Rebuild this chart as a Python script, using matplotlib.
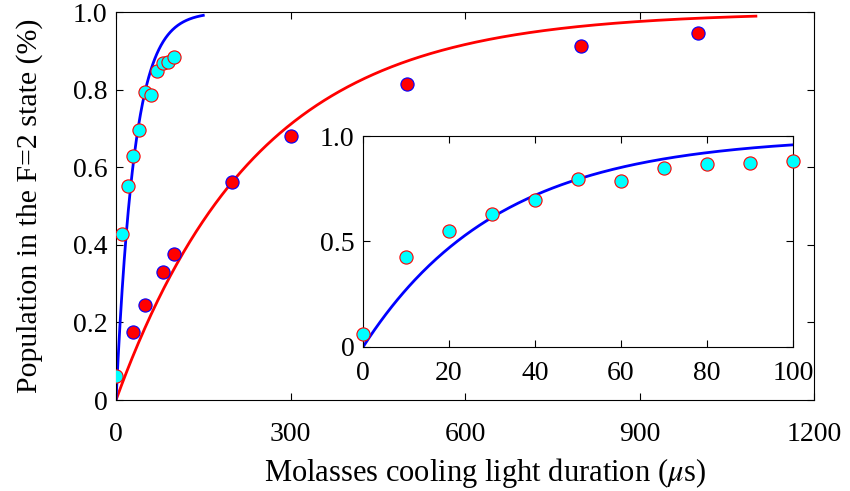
import numpy as np
import matplotlib
matplotlib.use('Agg')
import matplotlib.pyplot as plt

plt.rcParams['font.family'] = ['Liberation Serif', 'DejaVu Serif']
plt.rcParams['mathtext.fontset'] = 'stix'

# short delays (cyan) and long delays (red)
t_short = [0, 10, 20, 30, 40, 50, 60, 70, 80, 90, 100]
p_short = [0.061, 0.428, 0.551, 0.630, 0.696, 0.794, 0.787, 0.849, 0.868, 0.871, 0.883]
t_long = [30, 50, 80, 100, 200, 300, 500, 800, 1000]
p_long = [0.175, 0.245, 0.330, 0.376, 0.562, 0.680, 0.814, 0.912, 0.946]

# exponential fit parameters: p = A * (1 - exp(-t / tau))
tau_short, amp_short, tmax_short = 31.5, 1.0, 150
tau_long, amp_long, tmax_long = 242.0, 1.0, 1100

main_xticks = [0, 300, 600, 900, 1200]
main_yticks = [0, 0.2, 0.4, 0.6, 0.8, 1.0]
main_ylabels = ['0', '0.2', '0.4', '0.6', '0.8', '1.0']
ins_xticks = [0, 20, 40, 60, 80, 100]
ins_yticks = [0, 0.5, 1.0]
ins_ylabels = ['0', '0.5', '1.0']


def fit(t, amp, tau):
    return amp * (1 - np.exp(-t / tau))


def style(ax, xpad):
    ax.tick_params(direction='in', top=True, right=True, length=5, width=0.8,
                   labelsize=20)
    ax.tick_params(axis='x', pad=xpad)
    ax.tick_params(axis='y', pad=6)
    for s in ax.spines.values():
        s.set_linewidth(0.8)


fig = plt.figure(figsize=(8.5, 4.91), dpi=100)
ax = fig.add_axes([0.1365, 0.1853, 0.8212, 0.7902])

ts = np.linspace(0, tmax_short, 300)
tl = np.linspace(0, tmax_long, 600)
ax.plot(tl, fit(tl, amp_long, tau_long), color='red', lw=2, zorder=2)
ax.plot(ts, fit(ts, amp_short, tau_short), color='blue', lw=2, zorder=2)
ax.plot(t_long, p_long, 'o', ms=9.5, mfc='red', mec='blue', mew=0.8, zorder=3)
ax.plot(t_short, p_short, 'o', ms=9.5, mfc='cyan', mec='red', mew=0.8, zorder=3)

ax.set_xlim(0, 1200)
ax.set_ylim(0, 1.0)
ax.set_xticks(main_xticks)
ax.set_yticks(main_yticks)
ax.set_yticklabels(main_ylabels)
style(ax, 16)
ax.set_xlabel(r'Molasses cooling light duration ($\mu$s)', fontsize=22)
ax.set_ylabel('Population in the F=2 state (%)', fontsize=21.5)
ax.xaxis.set_label_coords(0.529, -0.143)
ax.yaxis.set_label_coords(-0.104, 0.5)

# inset: zoom on the first 100 us
ins = fig.add_axes([0.4271, 0.2933, 0.5059, 0.4297])
ti = np.linspace(0, 100, 300)
ins.plot(ti, fit(ti, amp_short, tau_short), color='blue', lw=2, zorder=2)
ins.plot(t_short, p_short, 'o', ms=9.5, mfc='cyan', mec='red', mew=0.8,
         zorder=3, clip_on=False)
ins.set_xlim(0, 100)
ins.set_ylim(0, 1.0)
ins.set_xticks(ins_xticks)
ins.set_yticks(ins_yticks)
ins.set_yticklabels(ins_ylabels)
style(ins, 10)

fig.savefig('out.png', dpi=100)
